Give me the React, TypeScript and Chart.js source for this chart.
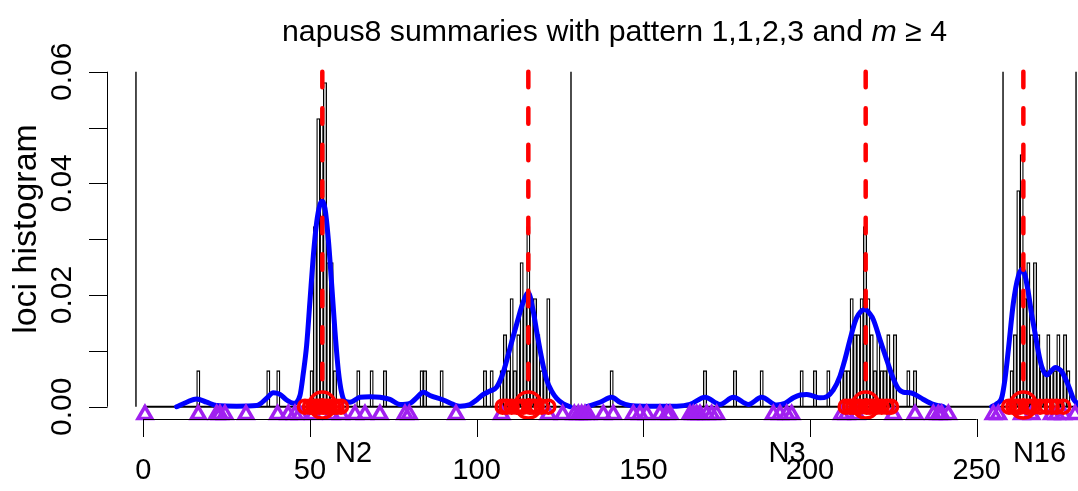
import React, { useEffect, useRef } from "react";
import { Chart, registerables } from "chart.js";

Chart.register(...registerables);

// ---------- data ----------
const TITLE_MAIN = "napus8 summaries with pattern 1,1,2,3 and ";
const TITLE_ITALIC = "m";
const TITLE_TAIL = " \u2265 4";
const Y_LABEL = "loci histogram";

const X_TICKS = [0, 50, 100, 150, 200, 250];
const Y_TICKS = [0, 0.01, 0.02, 0.03, 0.04, 0.05, 0.06];
const Y_TICK_LABELS = ["0.00", "", "0.02", "", "0.04", "", "0.06"];

const CHROM_NAMES = ["N2", "N3", "N16"];
const CHROM_BOUNDS = [-2.2, 128.3, 257.9, 279.8];

// histogram: bin start (width 1) and count; one locus = 1/155 density
const BIN_DENSITY = 1 / 155;
const BIN_STARTS = [
  16, 37, 40,
  50, 51, 52, 53, 54, 55, 56, 57,
  64, 68, 72, 83, 84, 89, 102, 104,
  107, 108, 109, 110, 111, 112, 113, 114, 115, 116, 117, 118, 119, 120, 121,
  140, 168, 177, 185, 197, 201, 205,
  209, 210, 211, 212, 213, 214, 215, 216, 217, 218, 219, 220, 221, 222, 223, 224, 225, 229, 231,
  260, 261, 262, 263, 264, 265, 266, 267, 268, 269, 270, 271, 272, 273, 274, 275, 276, 277,
];
const BIN_COUNTS = [
  1, 1, 1,
  1, 5, 8, 8, 9, 4, 4, 1,
  1, 1, 1, 1, 1, 1, 1, 1,
  1, 2, 1, 3, 1, 2, 4, 3, 5, 3, 3, 2, 1, 1, 3,
  1, 1, 1, 1, 1, 1, 1,
  1, 1, 1, 3, 2, 2, 3, 5, 3, 2, 1, 2, 1, 1, 2, 1, 2, 1, 1,
  1, 2, 6, 7, 3, 4, 2, 4, 2, 1, 1, 2, 1, 1, 2, 1, 2, 1,
];

// density curves (blue)
const DENS_N2_X = [10, 13, 16, 19, 22, 28, 34, 37, 39, 41, 43, 45, 47, 48, 49, 50, 51, 52, 53, 53.7, 54.5, 55.5, 56.5, 57.5, 58.5, 59.5, 60.5, 62, 65, 68, 71, 74, 77, 80, 82, 84, 86, 90, 93, 95, 98, 100, 102, 104, 106, 108, 110, 112, 114, 115.5, 117, 118, 119, 120, 121, 122.5, 124, 126, 128];
const DENS_N2_Y = [0, 0.0008, 0.0014, 0.0008, 0.0002, 0.0001, 0.0002, 0.0015, 0.0025, 0.0022, 0.0012, 0.0006, 0.002, 0.006, 0.011, 0.019, 0.027, 0.033, 0.0362, 0.0368, 0.0355, 0.03, 0.022, 0.0135, 0.0065, 0.0025, 0.001, 0.0008, 0.0017, 0.0018, 0.0017, 0.0013, 0.0004, 0.0006, 0.0016, 0.0026, 0.002, 0.0012, 0.0004, 0.0001, 0.0004, 0.0012, 0.0022, 0.0028, 0.0035, 0.0062, 0.0105, 0.0148, 0.0188, 0.0204, 0.017, 0.0135, 0.0102, 0.0072, 0.0048, 0.0028, 0.0015, 0.0005, 0];
const DENS_N3_X = [133, 137, 140.5, 143, 146, 150, 155, 160, 164, 168.5, 173, 177, 181.5, 185.5, 190, 192.5, 195, 197, 199, 201, 203, 205, 207, 209, 210.5, 212, 213.5, 214.5, 216.5, 218, 219, 221, 223, 225, 226.5, 228, 230, 231.5, 234, 237, 240];
const DENS_N3_Y = [0, 0.0008, 0.0017, 0.0008, 0.0002, 0.0001, 0.0001, 0.0001, 0.0004, 0.0017, 0.0004, 0.0017, 0.0004, 0.0017, 0.0003, 0.0006, 0.0016, 0.0021, 0.0022, 0.0019, 0.0016, 0.0018, 0.003, 0.0055, 0.0085, 0.012, 0.0152, 0.0165, 0.0174, 0.0166, 0.0156, 0.012, 0.0084, 0.005, 0.0032, 0.0026, 0.0025, 0.0022, 0.0013, 0.0004, 0];
const DENS_N16_X = [254.5, 256, 257.5, 258.5, 259.5, 261, 262.5, 263.7, 264.5, 265.5, 266.5, 267.5, 268.5, 269.5, 271, 272.5, 273.5, 274.5, 275.5, 277, 278, 279, 280.4];
const DENS_N16_Y = [0, 0.0005, 0.0016, 0.005, 0.0102, 0.0186, 0.0234, 0.0246, 0.0235, 0.0204, 0.0165, 0.0132, 0.0098, 0.0072, 0.0057, 0.0065, 0.007, 0.0068, 0.0063, 0.0045, 0.003, 0.0014, 0.0004];

// peaks (red dashed lines and big circles)
const PEAKS = [53.7, 115.5, 216.7, 264.0];
const PEAK_TOP = 0.06;

// summaries (small red circles at y = 0)
const SUMMARIES = [
  48.5, 50, 51, 52, 53, 54, 55, 56, 57, 58, 59.3,
  107.8, 109, 110.5, 112, 113, 114, 116, 117, 118, 119.5, 121.5,
  210.7, 212, 213, 214, 215, 217, 218, 219, 220, 221.5, 223, 224.3,
  259.7, 261, 262, 263, 265, 266, 267, 269, 271, 272.5, 274, 276,
];

// loci (purple triangles below the axis)
const LOCI = [
  0.5, 16.5, 22, 23, 24.5, 30.8, 40.3, 43.5, 45.5, 47, 51, 56.5, 59.3, 63.5, 66.5, 71, 78.5, 79.8, 93.8,
  107.5, 121.5, 125.8, 129.3, 130.5, 131.5, 132.5, 133.5, 138, 141, 147, 149, 151, 155, 157, 158,
  164, 165, 166, 167, 169, 170.5, 172, 189, 191, 193, 194.5, 209.5, 211, 214, 225, 231.5,
  237, 238.5, 239.5, 241.5, 255, 256.5, 263.5, 266.5, 272.5, 274, 276, 279.5,
];
const LOCI_Y = -0.0014;

// ---------- layout ----------
const W = 1078;
const H = 491;
const X_MIN = -10.889;
const X_MAX = 280.39;
const Y_MIN = -0.002203;
const Y_MAX = 0.06228;
const FONT = '"Liberation Sans", Arial, Helvetica, sans-serif';

const rAxisPlugin = {
  id: "rAxes",
  afterDraw(chart: any) {
    const ctx = chart.ctx as CanvasRenderingContext2D;
    const xs = chart.scales.x;
    const ys = chart.scales.y;
    ctx.save();
    ctx.strokeStyle = "#000";
    ctx.fillStyle = "#000";
    ctx.lineWidth = 1;

    // x axis
    const xAxisY = chart.chartArea.bottom;
    const x0 = xs.getPixelForValue(X_TICKS[0]);
    const x1 = xs.getPixelForValue(X_TICKS[X_TICKS.length - 1]);
    ctx.beginPath();
    ctx.moveTo(x0, xAxisY + 0.5);
    ctx.lineTo(x1, xAxisY + 0.5);
    X_TICKS.forEach((t) => {
      const px = Math.round(xs.getPixelForValue(t)) + 0.5;
      ctx.moveTo(px, xAxisY);
      ctx.lineTo(px, xAxisY + 18);
    });
    ctx.stroke();
    ctx.font = `29px ${FONT}`;
    ctx.textAlign = "center";
    ctx.textBaseline = "alphabetic";
    X_TICKS.forEach((t) => {
      ctx.fillText(String(t), xs.getPixelForValue(t), 479);
    });
    // chromosome names
    for (let i = 0; i < CHROM_NAMES.length; i++) {
      const mid = (CHROM_BOUNDS[i] + CHROM_BOUNDS[i + 1]) / 2;
      ctx.fillText(CHROM_NAMES[i], xs.getPixelForValue(mid), 462);
    }

    // y axis
    const yAxisX = chart.chartArea.left;
    ctx.beginPath();
    ctx.moveTo(yAxisX + 0.5, ys.getPixelForValue(Y_TICKS[0]));
    ctx.lineTo(yAxisX + 0.5, ys.getPixelForValue(Y_TICKS[Y_TICKS.length - 1]));
    Y_TICKS.forEach((t) => {
      const py = Math.round(ys.getPixelForValue(t)) + 0.5;
      ctx.moveTo(yAxisX + 0.5, py);
      ctx.lineTo(yAxisX - 18, py);
    });
    ctx.stroke();
    ctx.font = `30px ${FONT}`;
    Y_TICKS.forEach((t, i) => {
      const lab = Y_TICK_LABELS[i];
      if (!lab) return;
      ctx.save();
      ctx.translate(71, ys.getPixelForValue(t));
      ctx.rotate(-Math.PI / 2);
      ctx.fillText(lab, 0, 0);
      ctx.restore();
    });
    // y label
    ctx.save();
    ctx.font = `34px ${FONT}`;
    ctx.translate(36, 229);
    ctx.rotate(-Math.PI / 2);
    ctx.fillText(Y_LABEL, 0, 0);
    ctx.restore();

    // title
    const TF = 30.3;
    ctx.font = `${TF}px ${FONT}`;
    const w1 = ctx.measureText(TITLE_MAIN).width;
    ctx.font = `italic ${TF}px ${FONT}`;
    const w2 = ctx.measureText(TITLE_ITALIC).width;
    ctx.font = `${TF}px ${FONT}`;
    const w3 = ctx.measureText(TITLE_TAIL).width;
    const total = w1 + w2 + w3;
    let tx = 614.5 - total / 2;
    const ty = 41;
    ctx.textAlign = "left";
    ctx.fillText(TITLE_MAIN, tx, ty);
    tx += w1;
    ctx.font = `italic ${TF}px ${FONT}`;
    ctx.fillText(TITLE_ITALIC, tx, ty);
    tx += w2;
    ctx.font = `${TF}px ${FONT}`;
    ctx.fillText(TITLE_TAIL, tx, ty);
    ctx.restore();
  },
};

function lineDs(points: { x: number; y: number }[], color: string, width: number, order: number, extra: any = {}) {
  return {
    type: "line",
    data: points,
    borderColor: color,
    borderWidth: width,
    pointRadius: 0,
    fill: false,
    order,
    clip: false,
    ...extra,
  };
}

export default function App() {
  const ref = useRef<HTMLCanvasElement | null>(null);

  useEffect(() => {
    if (!ref.current) return;

    const histData = BIN_STARTS.map((s, i) => ({ x: s + 0.5, y: BIN_COUNTS[i] * BIN_DENSITY }));
    const toPts = (xs: number[], ys: number[]) => xs.map((x, i) => ({ x, y: ys[i] }));

    const datasets: any[] = [];
    // histogram
    datasets.push({
      type: "bar",
      data: histData,
      backgroundColor: "#ffffff",
      borderColor: "#000000",
      borderWidth: 1.3,
      borderSkipped: "start",
      barThickness: 3.334,
      grouped: false,
      order: 20,
    });
    // baseline of the histogram
    datasets.push(lineDs([{ x: 0, y: 0 }, { x: X_MAX, y: 0 }], "#000000", 2, 19));
    // chromosome boundaries
    CHROM_BOUNDS.forEach((b) => {
      datasets.push(lineDs([{ x: b, y: 0 }, { x: b, y: 0.06 }], "#000000", 1.4, 18));
    });
    // density curves
    [
      [DENS_N2_X, DENS_N2_Y],
      [DENS_N3_X, DENS_N3_Y],
      [DENS_N16_X, DENS_N16_Y],
    ].forEach(([xs, ys]) => {
      datasets.push(
        lineDs(toPts(xs, ys), "#0000ff", 5, 15, {
          cubicInterpolationMode: "monotone",
          borderCapStyle: "round",
          borderJoinStyle: "round",
        })
      );
    });
    // loci triangles
    datasets.push({
      type: "scatter",
      data: LOCI.map((x) => ({ x, y: LOCI_Y })),
      pointStyle: "triangle",
      pointRadius: 8,
      pointBorderWidth: 3.5,
      pointBorderColor: "#a020f0",
      pointBackgroundColor: "rgba(0,0,0,0)",
      showLine: false,
      order: 12,
      clip: false,
    });
    // summaries small circles
    datasets.push({
      type: "scatter",
      data: SUMMARIES.map((x) => ({ x, y: 0 })),
      pointStyle: "circle",
      pointRadius: 6.5,
      pointBorderWidth: 3.5,
      pointBorderColor: "#ff0000",
      pointBackgroundColor: "rgba(0,0,0,0)",
      showLine: false,
      order: 10,
      clip: false,
    });
    // peak big circles
    datasets.push({
      type: "scatter",
      data: PEAKS.map((x) => ({ x, y: 0.0003 })),
      pointStyle: "circle",
      pointRadius: 13,
      pointBorderWidth: 3.5,
      pointBorderColor: "#ff0000",
      pointBackgroundColor: "rgba(0,0,0,0)",
      showLine: false,
      order: 9,
      clip: false,
    });
    // peak dashed lines
    PEAKS.forEach((p) => {
      datasets.push(
        lineDs([{ x: p, y: PEAK_TOP }, { x: p, y: 0 }], "#ff0000", 4.5, 5, {
          borderDash: [15.5, 21],
          borderCapStyle: "round",
        })
      );
    });

    const chart = new Chart(ref.current, {
      type: "bar",
      data: { datasets },
      options: {
        responsive: false,
        animation: false,
        devicePixelRatio: 1,
        layout: { autoPadding: false, padding: { left: 107, right: 0, top: 59, bottom: 72 } },
        plugins: { legend: { display: false }, tooltip: { enabled: false }, title: { display: false } },
        events: [],
        scales: {
          x: { type: "linear", min: X_MIN, max: X_MAX, display: false, offset: false },
          y: { type: "linear", min: Y_MIN, max: Y_MAX, display: false },
        },
      } as any,
      plugins: [rAxisPlugin],
    } as any);

    return () => chart.destroy();
  }, []);

  return (
    <div style={{ position: "fixed", left: 0, top: 0, width: W, height: H, background: "#fff" }}>
      <canvas ref={ref} width={W} height={H} style={{ display: "block", width: W, height: H }} />
    </div>
  );
}
